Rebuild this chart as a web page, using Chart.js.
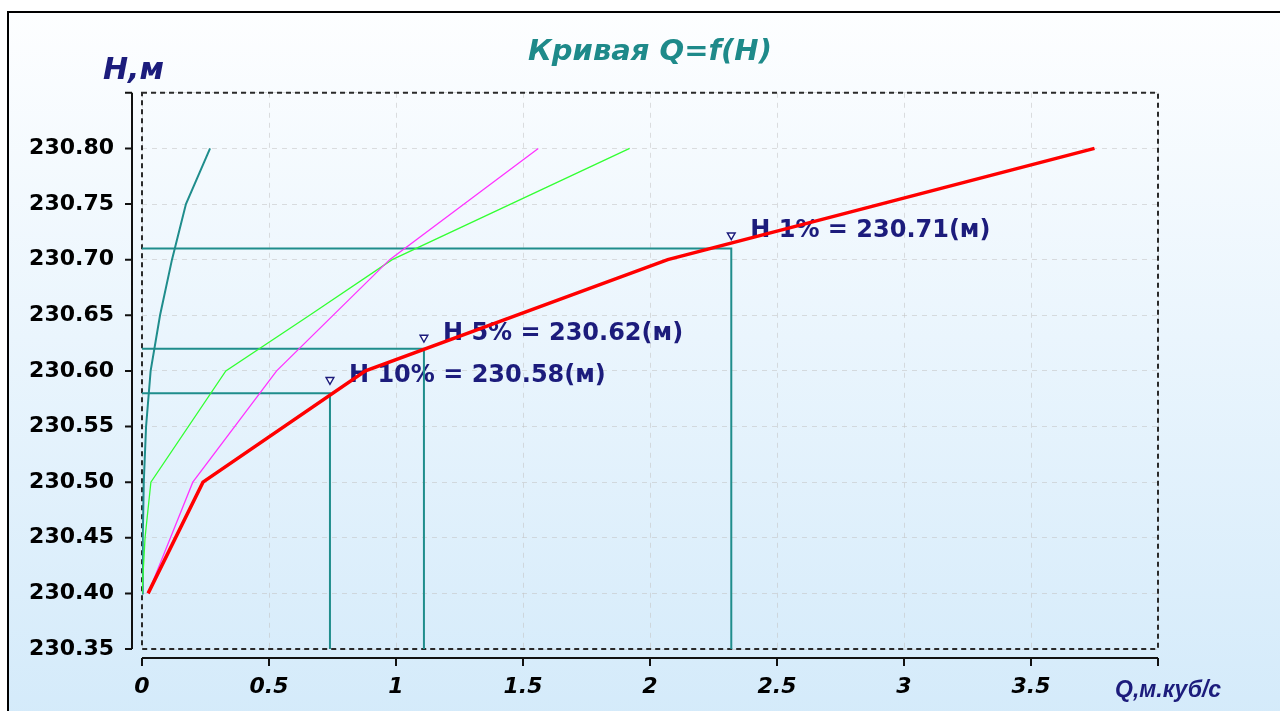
<!DOCTYPE html>
<html lang="ru">
<head>
    <meta charset="UTF-8">
    <title>Кривая Q=f(H)</title>
    <script src="https://cdn.jsdelivr.net/npm/chart.js"></script>
    <style>
        html, body { margin: 0; padding: 0; background: #fff; overflow: hidden; }
        #frame {
            position: absolute; left: 7px; top: 11px; width: 1300px; height: 720px;
            border: 2px solid #000;
            background: linear-gradient(to bottom, #fdfeff 0%, #eaf5fd 45%, #d3eafa 100%);
        }
        #wrap { position: absolute; left: 0; top: 0; width: 1280px; height: 711px; }
    </style>
</head>
<body>
    <div id="frame"></div>
    <div id="wrap"><canvas id="curveChart"></canvas></div>

    <script>
        // --- данные ---
        const xTicks = [0, 0.5, 1, 1.5, 2, 2.5, 3, 3.5, 4];
        const xTickLabels = ['0', '0.5', '1', '1.5', '2', '2.5', '3', '3.5', ''];
        const yTicks = [230.35, 230.40, 230.45, 230.50, 230.55, 230.60, 230.65, 230.70, 230.75, 230.80, 230.85];
        const yTickLabels = ['230.35', '230.40', '230.45', '230.50', '230.55', '230.60', '230.65', '230.70', '230.75', '230.80', ''];

        // расчётная кривая (красная)
        const redH = [230.40, 230.50, 230.60, 230.70, 230.80];
        const redQ = [0.024, 0.24, 0.88, 2.07, 3.75];
        // прочие кривые
        const magentaH = [230.40, 230.50, 230.60, 230.70, 230.80];
        const magentaQ = [0.024, 0.20, 0.53, 0.975, 1.56];
        const greenH = [230.40, 230.45, 230.50, 230.60, 230.65, 230.70, 230.80];
        const greenQ = [0, 0.012, 0.035, 0.33, 0.66, 0.985, 1.92];
        const tealH = [230.40, 230.45, 230.50, 230.55, 230.60, 230.65, 230.70, 230.75, 230.80];
        const tealQ = [0, 0.003, 0.007, 0.016, 0.034, 0.071, 0.118, 0.173, 0.268];

        // уровни обеспеченности
        const levelNames = ['H 10%', 'H 5%', 'H 1%'];
        const levelH = [230.58, 230.62, 230.71];
        const levelQ = [0.74, 1.11, 2.32];
        const markerH = [230.592, 230.630, 230.722];

        const yMin = 230.35, yMax = 230.85;
        const teal = '#1f8d8c';
        const navy = '#1c1c7c';

        const pts = (qs, hs) => qs.map((q, i) => ({ x: q, y: hs[i] }));

        const datasets = [
            { data: pts(redQ, redH), borderColor: '#ff0000', borderWidth: 3.5 },
            { data: pts(magentaQ, magentaH), borderColor: '#ff33ff', borderWidth: 1.3 },
            { data: pts(greenQ, greenH), borderColor: '#33ff33', borderWidth: 1.3 },
            { data: pts(tealQ, tealH), borderColor: teal, borderWidth: 2 },
            {
                data: pts(levelQ, markerH), showLine: false,
                pointRadius: 4.5, pointStyle: 'triangle', rotation: 180,
                pointBorderColor: navy, pointBackgroundColor: '#ffffff', pointBorderWidth: 1.4
            }
        ];
        levelH.forEach((h, i) => {
            datasets.push({
                data: [{ x: 0, y: h }, { x: levelQ[i], y: h }, { x: levelQ[i], y: yMin }],
                borderColor: teal, borderWidth: 2
            });
        });
        datasets.forEach(d => { d.tension = 0; if (d.pointRadius === undefined) d.pointRadius = 0; });

        // рамка, оси со смещением и подписи
        const decor = {
            id: 'decor',
            beforeDatasetsDraw(chart) {
                const { ctx, chartArea: a, scales: { x, y } } = chart;
                ctx.save();
                // пунктирная рамка области построения
                ctx.strokeStyle = '#2a2a2a';
                ctx.lineWidth = 2;
                ctx.setLineDash([5, 4]);
                ctx.strokeRect(a.left, a.top, a.right - a.left, a.bottom - a.top);
                ctx.setLineDash([]);

                // ось Y
                ctx.strokeStyle = '#111';
                const ax = a.left - 10;
                ctx.beginPath();
                ctx.moveTo(ax, a.top); ctx.lineTo(ax, a.bottom);
                y.ticks.forEach(t => {
                    const py = y.getPixelForValue(t.value);
                    ctx.moveTo(ax - 7, py); ctx.lineTo(ax, py);
                });
                // ось X
                const ay = a.bottom + 9;
                ctx.moveTo(a.left, ay); ctx.lineTo(a.right, ay);
                x.ticks.forEach(t => {
                    const px = x.getPixelForValue(t.value);
                    ctx.moveTo(px, ay); ctx.lineTo(px, ay + 8);
                });
                ctx.stroke();

                // подписи уровней
                ctx.fillStyle = navy;
                ctx.font = 'bold 24px "DejaVu Sans"';
                ctx.textBaseline = 'alphabetic';
                levelNames.forEach((n, i) => {
                    const px = x.getPixelForValue(levelQ[i]);
                    const py = y.getPixelForValue(markerH[i]);
                    ctx.fillText(n + ' = ' + levelH[i].toFixed(2) + '(м)', px + 19, py + 2);
                });

                // названия осей
                ctx.font = 'bold italic 30px "DejaVu Sans"';
                ctx.fillText('H,м', 103, 79);
                ctx.font = 'bold italic 23px "Liberation Sans"';
                ctx.fillText('Q,м.куб/с', 1115, 697);
                ctx.restore();
            }
        };

        const gridOpts = { color: 'rgba(195,195,195,0.55)', drawTicks: false, lineWidth: 1 };

        new Chart(document.getElementById('curveChart'), {
            type: 'line',
            data: { datasets },
            options: {
                responsive: true,
                maintainAspectRatio: false,
                animation: false,
                layout: { padding: { left: 0, right: 122, top: 0, bottom: 0 } },
                plugins: {
                    legend: { display: false },
                    tooltip: { enabled: false },
                    title: {
                        display: true,
                        text: 'Кривая Q=f(H)',
                        fullSize: false,
                        color: '#1e8a8a',
                        font: { family: 'DejaVu Sans', size: 29, weight: 'bold', style: 'italic' },
                        padding: { top: 35, bottom: 23 }
                    }
                },
                scales: {
                    x: {
                        type: 'linear', min: 0, max: 4,
                        afterBuildTicks: s => { s.ticks = xTicks.map(v => ({ value: v })); },
                        afterFit: s => { s.height = 62; },
                        grid: gridOpts,
                        border: { display: false, dash: [5, 5] },
                        ticks: {
                            padding: 25, color: '#000', maxRotation: 0, autoSkip: false,
                            font: { family: 'DejaVu Sans', size: 22, weight: 'bold', style: 'italic' },
                            callback: (v, i) => xTickLabels[i]
                        }
                    },
                    y: {
                        type: 'linear', min: yMin, max: yMax,
                        afterBuildTicks: s => { s.ticks = yTicks.map(v => ({ value: v })); },
                        afterFit: s => { s.width = 142; },
                        grid: gridOpts,
                        border: { display: false, dash: [5, 5] },
                        ticks: {
                            padding: 28, color: '#000', autoSkip: false,
                            font: { family: 'DejaVu Sans', size: 22, weight: 'bold' },
                            callback: (v, i) => yTickLabels[i]
                        }
                    }
                }
            },
            plugins: [decor]
        });
    </script>
</body>
</html>
